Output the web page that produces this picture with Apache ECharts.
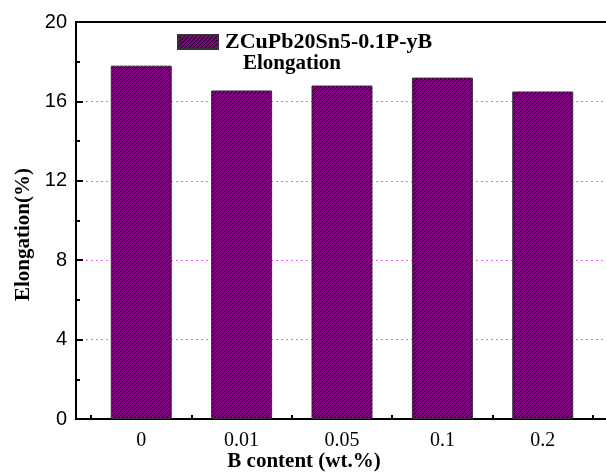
<!DOCTYPE html>
<html>
<head>
<meta charset="utf-8">
<script src="https://cdn.jsdelivr.net/npm/echarts@6/dist/echarts.min.js"></script>
<style>html,body{margin:0;padding:0;background:#fff}#c{width:606px;height:476px}</style>
</head>
<body>
<div id="c"></div>
<script>
const categories = ['0', '0.01', '0.05', '0.1', '0.2'];
const elongation = [17.8, 16.55, 16.8, 17.2, 16.5];
const seriesName = 'ZCuPb20Sn5-0.1P-yB';
const yTicks = [0, 4, 8, 12, 16, 20];

// hatch pattern
const pc = document.createElement('canvas');
pc.width = 4; pc.height = 4;
const g = pc.getContext('2d');
g.fillStyle = '#820082';
g.fillRect(0, 0, 4, 4);
g.strokeStyle = '#1a001a';
g.lineWidth = 1;
g.beginPath();
g.moveTo(-1, 5); g.lineTo(5, -1);
g.moveTo(-1, 1); g.lineTo(1, -1);
g.moveTo(3, 5); g.lineTo(5, 3);
g.stroke();

const positions = categories.map((c, i) => i + 1);
const minorPos = [];
for (let i = 0; i <= categories.length; i++) minorPos.push(i + 0.5);

const chart = echarts.init(document.getElementById('c'), null, {renderer: 'canvas'});
chart.setOption({
  animation: false,
  grid: {left: 76, top: 22, right: -2, bottom: 57, show: true, borderColor: '#000', borderWidth: 2, backgroundColor: 'transparent', outerBoundsMode: 'none', containLabel: false},
  legend: {
    left: 177, top: 31, padding: 0, itemWidth: 40, itemHeight: 14, itemGap: 5, icon: 'rect',
    textStyle: {fontFamily: 'Liberation Serif', fontWeight: 'bold', fontSize: 22, color: '#000', padding: [0,0,0,2]},
    data: [seriesName]
  },
  graphic: [{
    type: 'text', left: 243, top: 53,
    style: {text: 'Elongation', fontFamily: 'Liberation Serif', fontWeight: 'bold', fontSize: 21, fill: '#000'}
  }],
  xAxis: [{
    type: 'value', min: 0.35, max: 5.65,
    name: 'B content (wt.%)', nameLocation: 'middle', nameGap: 32, nameMoveOverlap: false,
    nameTextStyle: {fontFamily: 'Liberation Serif', fontWeight: 'bold', fontSize: 21, color: '#000', padding: [0, 76, 0, 0]},
    axisLine: {show: true, lineStyle: {color: '#000', width: 2}},
    axisTick: {show: true, inside: true, length: 7, lineStyle: {color: '#000', width: 2}, customValues: positions},
    axisLabel: {show: true, customValues: positions, margin: 12, fontFamily: 'Liberation Serif', fontSize: 20, color: '#000',
      formatter: v => categories[Math.round(v) - 1] ?? ''},
    splitLine: {show: false}
  }, {
    type: 'value', min: 0.35, max: 5.65, position: 'bottom',
    axisLine: {show: false},
    axisTick: {show: true, inside: true, length: 4, lineStyle: {color: '#000', width: 2}, customValues: minorPos},
    axisLabel: {show: false},
    splitLine: {show: false}
  }],
  yAxis: {
    type: 'value', min: yTicks[0], max: yTicks[yTicks.length - 1], interval: 4,
    name: 'Elongation(%)', nameLocation: 'middle', nameGap: 42, nameMoveOverlap: false,
    nameTextStyle: {fontFamily: 'Liberation Serif', fontWeight: 'bold', fontSize: 21, color: '#000', padding: [0, 28, 0, 0]},
    axisLine: {show: true, lineStyle: {color: '#000', width: 2}},
    axisTick: {show: true, inside: true, length: 7, lineStyle: {color: '#000', width: 2}},
    minorTick: {show: true, splitNumber: 2, length: 4, lineStyle: {color: '#000', width: 2}},
    axisLabel: {margin: 9, fontFamily: 'Liberation Sans', fontSize: 20, color: '#000'},
    splitLine: {show: true, showMinLine: false, showMaxLine: false, lineStyle: {color: '#ff55ff', width: 1, type: [2, 3]}}
  },
  series: [{
    name: seriesName, type: 'bar', xAxisIndex: 0, barWidth: 61,
    itemStyle: {color: {image: pc, repeat: 'repeat'}, borderColor: '#333', borderWidth: 1},
    data: positions.map((p, i) => [p, elongation[i]])
  }]
});
</script>
</body>
</html>
